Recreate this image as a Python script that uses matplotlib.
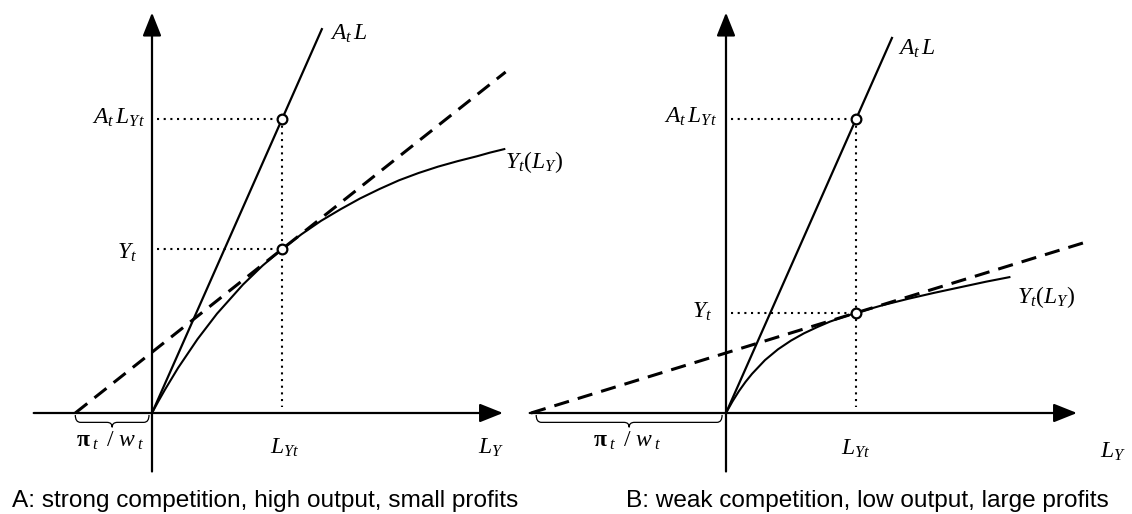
import matplotlib
matplotlib.use('Agg')
import matplotlib.pyplot as plt
from matplotlib.path import Path
from matplotlib.patches import PathPatch

plt.rcParams['mathtext.fontset'] = 'custom'
plt.rcParams['mathtext.rm'] = 'Liberation Serif'
plt.rcParams['mathtext.it'] = 'Liberation Serif:italic'
plt.rcParams['mathtext.bf'] = 'Liberation Serif:bold'

# labour employed in final output and productivity A_t
L_YT = 1.0
A_T = 2.26

# A: strong competition
Y_T_A = 1.26
PI_W_A = 0.59
curve_a_x = [0, 0.05, 0.1, 0.2, 0.35, 0.5, 0.7, 0.85, 1.0, 1.15, 1.3, 1.45, 1.6, 1.75, 1.9, 2.05,
             2.2, 2.35, 2.5, 2.6, 2.71]
curve_a_y = [0, 0.092, 0.18, 0.346, 0.568, 0.764, 0.988, 1.133, 1.26, 1.375, 1.478, 1.567, 1.65,
             1.723, 1.79, 1.846, 1.895, 1.937, 1.975, 2.003, 2.03]

# B: weak competition
Y_T_B = 0.77
PI_W_B = 1.50
curve_b_x = [0, 0.05, 0.1, 0.15, 0.2, 0.3, 0.4, 0.5, 0.6, 0.7, 0.8, 0.9, 1.0, 1.2, 1.4, 1.6, 1.8,
             2.0, 2.18]
curve_b_y = [0, 0.089, 0.169, 0.239, 0.301, 0.407, 0.49, 0.557, 0.613, 0.66, 0.703, 0.738, 0.77,
             0.828, 0.878, 0.924, 0.967, 1.01, 1.045]

captions = ['A: strong competition, high output, small profits',
            'B: weak competition, low output, large profits']

W, H = 1132, 514
SCALE = 130.0  # pixels per unit
fig = plt.figure(figsize=(W / 100, H / 100), dpi=100)


def make_axes(px_left, px_right, px_origin_x, px_origin_y=413):
    ax = fig.add_axes([px_left / W, 0, (px_right - px_left) / W, 1])
    ax.set_xlim((px_left - px_origin_x) / SCALE, (px_right - px_origin_x) / SCALE)
    ax.set_ylim(-(H - px_origin_y) / SCALE, px_origin_y / SCALE)
    ax.axis('off')
    return ax


def brace(ax, x0, x1, top=-0.015, mid=-0.072, tip=-0.11, r=0.04):
    xm = (x0 + x1) / 2
    verts = [(x0, top), (x0, mid), (x0 + r, mid), (xm - r, mid), (xm, mid), (xm, tip),
             (xm, mid), (xm + r, mid), (x1 - r, mid), (x1, mid), (x1, top)]
    codes = [Path.MOVETO, Path.CURVE3, Path.CURVE3, Path.LINETO, Path.CURVE3, Path.CURVE3,
             Path.CURVE3, Path.CURVE3, Path.LINETO, Path.CURVE3, Path.CURVE3]
    ax.add_patch(PathPatch(Path(verts, codes), fill=False, lw=0.9, color='black',
                           clip_on=False))


def panel(ax, y_t, pi_w, cx, cy, x_start, at_end, tan_end, lab):
    arrow = dict(arrowstyle='-|>,head_length=0.55,head_width=0.22', mutation_scale=26,
                 lw=1.6, color='black', shrinkA=0, shrinkB=0)
    ax.annotate('', xy=(2.70, 0), xytext=(x_start, 0), arrowprops=arrow, annotation_clip=False)
    ax.annotate('', xy=(0, 3.08), xytext=(0, -0.45), arrowprops=arrow, annotation_clip=False)

    # productivity line A_t L
    ax.plot([0, at_end], [0, A_T * at_end], color='black', lw=1.6, solid_capstyle='butt',
            clip_on=False)
    # production function
    ax.plot(cx, cy, color='black', lw=1.5, clip_on=False)
    # tangent (wage line) through the optimum, hitting the axis at -pi/w
    slope = y_t / (L_YT + pi_w)
    ax.plot([-pi_w, tan_end], [0, y_t + slope * (tan_end - L_YT)], color='black', lw=2.2,
            dashes=(5, 3), dash_capstyle='butt', clip_on=False)

    dot = dict(color='black', lw=1.5, dashes=(1, 2.2), dash_capstyle='butt')
    ax.plot([0.04, L_YT], [A_T * L_YT, A_T * L_YT], **dot)
    ax.plot([0.04, L_YT], [y_t, y_t], **dot)
    ax.plot([L_YT, L_YT], [A_T * L_YT, 0.05], **dot)

    ax.plot([L_YT, L_YT], [A_T * L_YT, y_t], 'o', ms=7, mfc='white', mec='black', mew=1.6,
            zorder=5)

    brace(ax, -pi_w + lab['brace'][0], lab['brace'][1])

    tk = dict(fontsize=17, color='black', clip_on=False)
    ax.text(*lab['atl'], r'$A_t\,L$', ha='left', va='baseline', **tk)
    ax.text(*lab['atly'], r'$A_t\,L_{Yt}$', ha='right', va='baseline', **tk)
    ax.text(*lab['yt'], r'$Y_t$', ha='right', va='baseline', **tk)
    ax.text(*lab['yl'], r'$Y_t(L_Y)$', ha='left', va='baseline', **tk)
    ax.text(*lab['lyt'], r'$L_{Yt}$', ha='center', va='baseline', **tk)
    ax.text(*lab['ly'], r'$L_Y$', ha='left', va='baseline', **tk)
    ax.text(*lab['pw'], r'$\mathbf{\pi}_{\;t}\ \,/\ w_{\;t}$', ha='center', va='baseline', **tk)


ax_a = make_axes(0, 566, 152)
panel(ax_a, Y_T_A, PI_W_A, curve_a_x, curve_a_y, x_start=-0.91, at_end=1.31, tan_end=2.72,
      lab=dict(atl=(1.37, 2.87), atly=(-0.054, 2.223), yt=(-0.115, 1.19), yl=(2.715, 1.885),
               lyt=(1.02, -0.315), ly=(2.51, -0.315), pw=(-0.323, -0.262),
               brace=(0.0, -0.023)))

ax_b = make_axes(566, W, 726)
panel(ax_b, Y_T_B, PI_W_B, curve_b_x, curve_b_y, x_start=-1.51, at_end=1.28, tan_end=2.78,
      lab=dict(atl=(1.32, 2.754), atly=(-0.07, 2.23), yt=(-0.108, 0.73), yl=(2.24, 0.846),
               lyt=(1.0, -0.323), ly=(2.88, -0.346), pw=(-0.76, -0.262),
               brace=(0.04, -0.03)))

fig.text(12 / W, 7 / H, captions[0], family='Liberation Sans', fontsize=17.6, ha='left',
         va='baseline')
fig.text(626 / W, 7 / H, captions[1], family='Liberation Sans', fontsize=17.6, ha='left',
         va='baseline')

fig.savefig('out.png', dpi=100, facecolor='white')
